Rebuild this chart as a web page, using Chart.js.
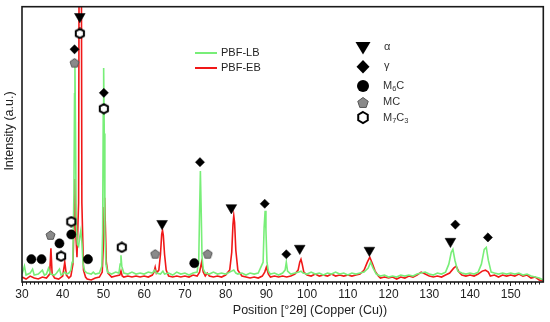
<!DOCTYPE html>
<html>
<head>
<meta charset="utf-8">
<script src="https://cdn.jsdelivr.net/npm/chart.js@4.4.1/dist/chart.umd.min.js"></script>
<style>
    html, body { margin: 0; padding: 0; background: #fff; }
</style>
</head>
<body>
<canvas id="chart" width="550" height="322"></canvas>
<script>
// PBF-LB (green) pattern
const lbPosition = [
    30, 30.6, 31, 32, 32.6, 33, 34, 35, 35.5, 36, 36.5, 37, 38, 38.5, 39.2, 39.6, 40, 40.5, 41, 41.5,
    42, 42.3, 42.5, 42.75, 42.9, 43.0, 43.15, 43.3, 43.6, 43.9, 44.2, 44.45, 44.7, 45.0, 45.4, 46, 47, 47.5, 48, 49,
    49.6, 49.8, 49.95, 50.05, 50.2, 50.35, 50.6, 51, 52, 53, 53.8, 54.1, 54.3, 54.5, 55, 56, 57, 58, 59, 60,
    61, 62, 62.6, 63, 64, 64.6, 65, 66, 67, 68, 69, 70, 71, 72, 73, 73.4, 73.6, 73.8, 74.0, 74.2,
    74.5, 75, 76, 77, 78, 79, 80, 81, 82, 82.5, 83, 84, 85, 86, 87, 88, 89.2, 89.45, 89.7, 89.9,
    90.15, 90.5, 91, 92, 93, 94, 94.6, 94.9, 95.2, 96, 97, 98, 98.5, 99, 100, 101, 102, 103, 104, 105,
    106, 107, 108, 109, 110, 111, 112, 113, 114, 115, 115.6, 116.2, 117, 118, 119, 120, 121, 122, 123, 124,
    125, 126, 127, 128, 129, 130, 131, 132, 133, 134, 134.8, 135.4, 135.8, 136.3, 137, 138, 139, 140, 141, 142,
    142.8, 143.5, 144.0, 144.5, 145.2, 146, 147, 148, 149, 150, 151, 152, 153, 154, 155, 156, 157, 158
];
const lbIntensity = [
    8, 16, 7, 9, 13, 7, 8, 12, 7, 8, 14, 8, 7, 9, 13, 7, 8, 10, 8, 9,
    12, 20, 28, 90, 190, 218, 150, 60, 38, 36, 46, 52, 40, 18, 11, 9, 8, 10, 8, 9,
    16, 50, 170, 216, 150, 50, 18, 10, 8, 10, 9, 18, 27, 16, 9, 8, 10, 8, 9, 8,
    10, 9, 12, 9, 8, 11, 8, 9, 7, 10, 8, 9, 7, 9, 10, 22, 70, 112, 72, 26,
    13, 9, 8, 10, 8, 9, 8, 10, 12, 9, 8, 9, 7, 9, 8, 9, 20, 55, 72, 52,
    20, 11, 8, 9, 7, 9, 12, 20, 11, 8, 9, 10, 11, 9, 8, 10, 8, 9, 7, 9,
    8, 10, 8, 9, 7, 9, 8, 9, 10, 14, 20, 14, 8, 6, 7, 5, 6, 5, 7, 6,
    7, 6, 8, 9, 10, 8, 7, 9, 8, 10, 18, 30, 33, 22, 11, 9, 8, 9, 8, 10,
    18, 33, 35, 22, 10, 9, 8, 9, 8, 9, 8, 9, 7, 8, 6, 5, 4, 2
];

// PBF-EB (red) pattern
const ebPosition = [
    30, 31, 32, 33, 34, 35, 36, 36.8, 37.1, 37.4, 38, 39, 40, 40.5, 40.9, 41.5, 42, 42.5, 42.8, 43.0,
    43.2, 43.5, 43.9, 44.3, 44.7, 45.1, 45.6, 46, 47, 48, 49, 49.7, 50.0, 50.15, 50.3, 50.45, 50.7, 51.1, 52, 53,
    54, 54.3, 54.6, 55, 56, 57, 58, 59, 60, 61, 62, 62.4, 62.7, 63.0, 63.6, 64.0, 64.3, 64.5, 64.7, 65.0,
    65.4, 66, 67, 68, 69, 70, 71, 72, 73, 73.6, 74.1, 74.5, 75, 75.5, 76, 77, 78, 79, 80, 81,
    81.5, 81.8, 82.0, 82.2, 82.5, 83, 84, 85, 86, 87, 88, 89, 89.6, 90.0, 90.5, 91, 92, 93, 94, 95,
    96, 97, 97.8, 98.2, 98.5, 98.8, 99.2, 100, 101, 102, 103, 104, 105, 106, 107, 108, 109, 110, 111, 112,
    113, 114, 114.8, 115.4, 116.0, 116.7, 117.5, 118, 119, 120, 121, 122, 123, 124, 125, 126, 127, 128, 129, 130,
    131, 132, 133, 134, 135, 136, 136.6, 137.3, 138, 139, 140, 141, 142, 143, 143.8, 144.5, 145, 146, 147, 148,
    149, 150, 151, 152, 153, 154, 155, 156, 157, 158
];
const ebIntensity = [
    5, 3, 6, 4, 3, 5, 4, 8, 34, 8, 4, 3, 6, 20, 7, 4, 6, 18, 60, 104,
    50, 25, 80, 900, 80, 12, 5, 3, 2, 4, 5, 10, 40, 75, 85, 60, 20, 9, 5, 6,
    7, 11, 6, 5, 6, 5, 6, 5, 6, 5, 7, 10, 15, 9, 12, 28, 48, 52, 47, 28,
    12, 6, 5, 6, 5, 6, 5, 7, 6, 10, 20, 10, 6, 9, 6, 5, 6, 5, 7, 12,
    30, 58, 67, 60, 32, 12, 6, 5, 4, 5, 4, 6, 10, 15, 8, 5, 6, 5, 6, 5,
    6, 8, 12, 20, 23, 18, 10, 7, 6, 8, 6, 7, 6, 8, 6, 7, 6, 7, 6, 7,
    8, 12, 20, 25, 19, 11, 6, 4, 5, 4, 5, 3, 5, 4, 6, 5, 7, 10, 8, 6,
    5, 6, 5, 7, 9, 14, 16, 10, 7, 6, 7, 6, 8, 11, 12, 10, 6, 7, 5, 7,
    6, 7, 6, 8, 6, 7, 4, 5, 2, 1
];

// phase markers: position [°2θ] and height above the axis
const alphaPosition = [44.2, 64.4, 81.4, 98.2, 115.3, 135.2];
const alphaHeight = [268, 59, 75, 34, 32, 41];
const gammaPosition = [42.9, 50.1, 73.7, 89.6, 94.9, 136.4, 144.4];
const gammaHeight = [235, 191, 121, 79, 28, 58, 45];
const m6cPosition = [32.3, 34.8, 39.2, 42.1, 46.2, 72.3];
const m6cHeight = [23, 23, 39, 48, 23, 19];
const mcPosition = [37.0, 42.9, 62.7, 75.6];
const mcHeight = [47, 221, 28, 28];
const m7c3Position = [44.2, 50.1, 42.1, 39.6, 54.5];
const m7c3Height = [251, 175, 61, 26, 35];

const xTicks = [30, 40, 50, 60, 70, 80, 90, 100, 110, 120, 130, 140, 150];

const GREEN = "#78ee78";
const RED = "#f01818";
const FONT = "'Liberation Sans', Arial, sans-serif";

function toPoints(xs, ys) {
    return xs.map((x, i) => ({ x: x, y: ys[i] }));
}

function polygonCanvas(sides, size, fill, stroke, lineWidth) {
    const c = document.createElement("canvas");
    c.width = size;
    c.height = size;
    const g = c.getContext("2d");
    drawPolygon(g, size / 2, size / 2, size / 2 - lineWidth / 2 - 0.3, sides);
    g.fillStyle = fill;
    g.fill();
    g.strokeStyle = stroke;
    g.lineWidth = lineWidth;
    g.stroke();
    return c;
}

function drawPolygon(g, cx, cy, r, sides) {
    g.beginPath();
    for (let i = 0; i < sides; i++) {
        const a = (i * 2 * Math.PI) / sides;
        const px = cx + r * Math.sin(a);
        const py = cy - r * Math.cos(a);
        if (i === 0) g.moveTo(px, py);
        else g.lineTo(px, py);
    }
    g.closePath();
}

const pentagonImg = polygonCanvas(5, 11, "#8a8a8a", "#555", 1);
const hexagonImg = polygonCanvas(6, 12, "#fff", "#000", 2);

function markerSet(label, xs, ys, style, radius, rotation) {
    return {
        type: "scatter",
        label: label,
        data: toPoints(xs, ys),
        pointStyle: style,
        pointRadius: radius,
        pointRotation: rotation || 0,
        backgroundColor: "#000",
        borderColor: "#000",
        borderWidth: 0.5,
        showLine: false,
    };
}

// symbol legend + line legend + axis titles + frame
const decorPlugin = {
    id: "decor",
    afterDraw(chart) {
        const ctx = chart.ctx;
        const area = chart.chartArea;
        const xs = chart.scales.x;
        ctx.save();

        // minor ticks every degree
        ctx.strokeStyle = "#222";
        ctx.lineWidth = 1;
        ctx.beginPath();
        for (let v = 31; v < 158; v++) {
            if (v % 10 === 0) continue;
            const px = Math.round(xs.getPixelForValue(v)) + 0.5;
            ctx.moveTo(px, area.bottom);
            ctx.lineTo(px, area.bottom + 2.5);
        }
        ctx.stroke();

        // frame
        ctx.strokeStyle = "#1a1a1a";
        ctx.lineWidth = 1.6;
        ctx.strokeRect(area.left, area.top, area.right - area.left, area.bottom - area.top);

        // axis titles
        ctx.fillStyle = "#222";
        ctx.font = "12.5px " + FONT;
        ctx.textAlign = "center";
        ctx.textBaseline = "middle";
        ctx.fillText("Position [°2θ] (Copper (Cu))", 310, 311);
        ctx.save();
        ctx.translate(10, 131);
        ctx.rotate(-Math.PI / 2);
        ctx.fillText("Intensity (a.u.)", 0, 0);
        ctx.restore();

        // line legend
        ctx.lineWidth = 2;
        ctx.strokeStyle = GREEN;
        ctx.beginPath();
        ctx.moveTo(195, 53);
        ctx.lineTo(217, 53);
        ctx.stroke();
        ctx.strokeStyle = RED;
        ctx.beginPath();
        ctx.moveTo(195, 68);
        ctx.lineTo(217, 68);
        ctx.stroke();
        ctx.fillStyle = "#222";
        ctx.font = "11px " + FONT;
        ctx.textAlign = "left";
        ctx.fillText("PBF-LB", 221, 53);
        ctx.fillText("PBF-EB", 221, 68);

        // symbol legend
        const sx = 363;
        ctx.fillStyle = "#000";
        ctx.beginPath();
        ctx.moveTo(sx - 7.5, 42);
        ctx.lineTo(sx + 7.5, 42);
        ctx.lineTo(sx, 54.5);
        ctx.closePath();
        ctx.fill();

        ctx.beginPath();
        ctx.moveTo(sx, 60);
        ctx.lineTo(sx + 6.5, 66.7);
        ctx.lineTo(sx, 73.4);
        ctx.lineTo(sx - 6.5, 66.7);
        ctx.closePath();
        ctx.fill();

        ctx.beginPath();
        ctx.arc(sx, 86, 6, 0, Math.PI * 2);
        ctx.fill();

        drawPolygon(ctx, sx, 103, 5.5, 5);
        ctx.fillStyle = "#8a8a8a";
        ctx.fill();
        ctx.strokeStyle = "#555";
        ctx.lineWidth = 1;
        ctx.stroke();

        drawPolygon(ctx, sx, 117.5, 5.5, 6);
        ctx.fillStyle = "#fff";
        ctx.fill();
        ctx.strokeStyle = "#000";
        ctx.lineWidth = 2;
        ctx.stroke();

        ctx.fillStyle = "#333";
        const tx = 383;
        ctx.font = "11px " + FONT;
        ctx.fillText("α", tx + 1, 47);
        ctx.fillText("γ", tx + 1, 66);
        drawFormula(ctx, tx, 86, ["M", "6", "C"]);
        ctx.font = "11px " + FONT;
        ctx.fillText("MC", tx, 102);
        drawFormula(ctx, tx, 118, ["M", "7", "C", "3"]);

        ctx.restore();
    },
};

// alternating normal / subscript pieces
function drawFormula(ctx, x, y, parts) {
    let cx = x;
    parts.forEach((p, i) => {
        const sub = i % 2 === 1;
        ctx.font = (sub ? "7.5px " : "11px ") + FONT;
        ctx.fillText(p, cx, sub ? y + 3 : y);
        cx += ctx.measureText(p).width;
    });
}

const ctx = document.getElementById("chart").getContext("2d");

new Chart(ctx, {
    type: "line",
    data: {
        datasets: [
            markerSet("α", alphaPosition, alphaHeight, "triangle", 6.2, 180),
            markerSet("γ", gammaPosition, gammaHeight, "rectRot", 4.6),
            markerSet("M6C", m6cPosition, m6cHeight, "circle", 4.6),
            markerSet("MC", mcPosition, mcHeight, pentagonImg, 5),
            markerSet("M7C3", m7c3Position, m7c3Height, hexagonImg, 6),
            {
                label: "PBF-LB",
                data: toPoints(lbPosition, lbIntensity),
                borderColor: GREEN,
                borderWidth: 1.6,
                pointRadius: 0,
                tension: 0,
            },
            {
                label: "PBF-EB",
                data: toPoints(ebPosition, ebIntensity),
                borderColor: RED,
                borderWidth: 1.6,
                pointRadius: 0,
                tension: 0,
            },
        ],
    },
    options: {
        responsive: false,
        animation: false,
        layout: { padding: { left: 22, right: 5, top: 4, bottom: 0 } },
        plugins: {
            legend: { display: false },
            tooltip: { enabled: false },
        },
        scales: {
            x: {
                type: "linear",
                min: 30,
                max: 158,
                afterBuildTicks: (scale) => {
                    scale.ticks = xTicks.map((v) => ({ value: v }));
                },
                afterFit: (scale) => {
                    scale.height = 40;
                },
                ticks: {
                    color: "#222",
                    font: { family: FONT, size: 12 },
                    padding: 1,
                    maxRotation: 0,
                },
                grid: {
                    drawOnChartArea: false,
                    drawTicks: true,
                    tickLength: 4,
                    color: "#222",
                },
                border: { display: false },
            },
            y: {
                display: false,
                min: 0,
                max: 278,
            },
        },
    },
    plugins: [decorPlugin],
});
</script>
</body>
</html>
